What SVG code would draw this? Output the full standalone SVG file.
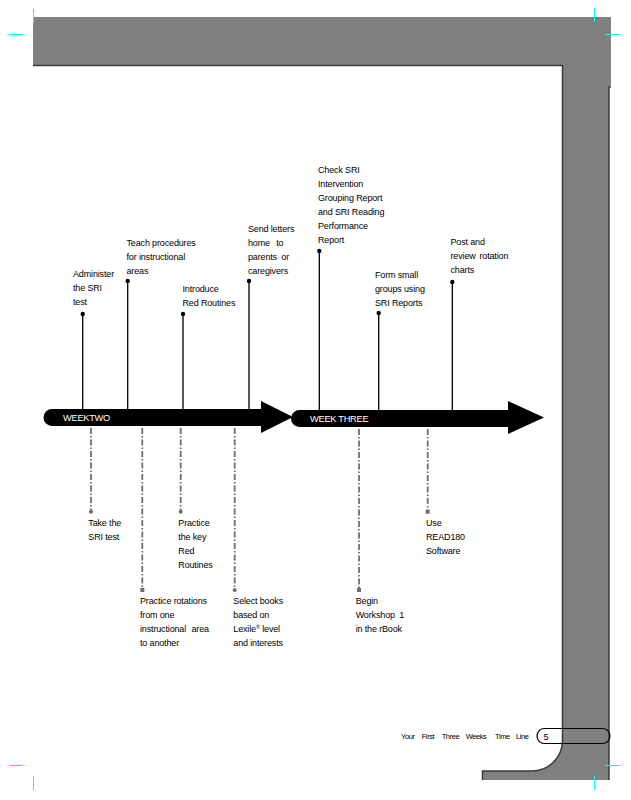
<svg xmlns="http://www.w3.org/2000/svg" width="631" height="800" viewBox="0 0 631 800">
<style>
.t{font-family:"Liberation Sans",Arial,sans-serif;font-size:9px;fill:#000;letter-spacing:-0.15px}
.wk{font-family:"Liberation Sans",Arial,sans-serif;font-size:9.3px;fill:#fff;letter-spacing:-0.3px}
.ft{font-family:"Liberation Sans",Arial,sans-serif;font-size:7.5px;fill:#000;letter-spacing:-0.4px}
.solid{stroke:#000;stroke-width:1.3;fill:none}
.dash{stroke:#6e6e6e;stroke-width:1.8;fill:none;stroke-dasharray:6 2 1.5 2}
.dot{fill:#000}
.gdot{fill:#6e6e6e}
.crop{stroke:#00ffff;stroke-width:1;fill:none}
.edge{stroke:#3a3a3a;stroke-width:1.5;fill:none}
</style>
<rect width="631" height="800" fill="#fff"/>
<g id="frame">
<path d="M33,17 H611 V88 H609 V780 H482 V771 H532 A30,30 0 0 0 562,741 V65 H33 Z" fill="#808080"/>
<path class="edge" d="M33,65.5 H562.5 V741 A30.5,30.5 0 0 1 532,771 H482.5 V780"/>
<path class="edge" d="M609,86 V780"/>
</g>
<g id="crop-marks">
<path class="crop" d="M9,34.5 H23 M33.5,9 V23 M594.5,8 V22 M605,34.5 H620 M9,765.5 H23 M33.5,776 V790 M605,765.5 H620 M594.5,776 V790"/>
</g>
<g id="week-two">
<path d="M52,409 H261 V401 L293,417 L261,433 V426 H52 A8.5,8.5 0 0 1 52,409 Z" fill="#000"/>
<text class="wk" x="63" y="420.5">WEEKTWO</text>
</g>
<g id="week-three">
<path d="M299.5,410 H508 V401 L544,417.5 L508,434 V427 H299.5 A8.5,8.5 0 0 1 299.5,410 Z" fill="#000"/>
<text class="wk" x="310" y="421.5">WEEK THREE</text>
</g>
<g id="connectors">
<path class="solid" d="M82.7,314 V409 M127.7,281 V409 M183,314 V409 M249,281 V409 M319.3,251 V410 M378.7,313 V410 M452.3,282 V410"/>
<path class="dash" d="M91,428 V511 M142.3,428 V589 M180.7,428 V511 M234.7,428 V589 M359,429 V589 M427.7,429 V511"/>
</g>
<g id="administer">
<circle class="dot" cx="82.7" cy="314" r="2.2"/>
<text class="t" x="73" y="277">Administer</text>
<text class="t" x="73" y="291">the SRI</text>
<text class="t" x="73" y="305">test</text>
</g>
<g id="teach">
<circle class="dot" cx="127.7" cy="281" r="2.2"/>
<text class="t" x="126.5" y="246">Teach procedures</text>
<text class="t" x="126.5" y="260">for instructional</text>
<text class="t" x="126.5" y="274">areas</text>
</g>
<g id="introduce">
<circle class="dot" cx="183" cy="314" r="2.2"/>
<text class="t" x="182.5" y="292">Introduce</text>
<text class="t" x="182.5" y="306">Red Routines</text>
</g>
<g id="send">
<circle class="dot" cx="249" cy="281" r="2.2"/>
<text class="t" x="248" y="232">Send letters</text>
<text class="t" x="248" y="246" word-spacing="4">home to</text>
<text class="t" x="248" y="260" word-spacing="2">parents or</text>
<text class="t" x="248" y="274">caregivers</text>
</g>
<g id="check">
<circle class="dot" cx="319.3" cy="251" r="2.2"/>
<text class="t" x="318" y="173">Check SRI</text>
<text class="t" x="318" y="187">Intervention</text>
<text class="t" x="318" y="201">Grouping Report</text>
<text class="t" x="318" y="215">and SRI Reading</text>
<text class="t" x="318" y="229">Performance</text>
<text class="t" x="318" y="243">Report</text>
</g>
<g id="form">
<circle class="dot" cx="378.7" cy="313" r="2.2"/>
<text class="t" x="375" y="278">Form small</text>
<text class="t" x="375" y="292">groups using</text>
<text class="t" x="375" y="306">SRI Reports</text>
</g>
<g id="post">
<circle class="dot" cx="452.3" cy="282" r="2.2"/>
<text class="t" x="450.5" y="245">Post and</text>
<text class="t" x="450.5" y="259" word-spacing="1.5">review rotation</text>
<text class="t" x="450.5" y="273">charts</text>
</g>
<g id="take">
<circle class="gdot" cx="91" cy="511.7" r="2"/>
<text class="t" x="88.3" y="526">Take the</text>
<text class="t" x="88.3" y="540">SRI test</text>
</g>
<g id="practice-key">
<circle class="gdot" cx="180.7" cy="511.7" r="2"/>
<text class="t" x="178.3" y="526">Practice</text>
<text class="t" x="178.3" y="540">the key</text>
<text class="t" x="178.3" y="554">Red</text>
<text class="t" x="178.3" y="568">Routines</text>
</g>
<g id="practice-rotations">
<rect class="gdot" x="140.3" y="588" width="4" height="4"/>
<text class="t" x="140" y="604">Practice rotations</text>
<text class="t" x="140" y="618">from one</text>
<text class="t" x="140" y="632" word-spacing="3">instructional area</text>
<text class="t" x="140" y="646">to another</text>
</g>
<g id="select">
<circle class="gdot" cx="234.7" cy="590" r="2"/>
<text class="t" x="233.3" y="604">Select books</text>
<text class="t" x="233.3" y="618">based on</text>
<text class="t" x="233.3" y="632">Lexile<tspan font-size="5.5" dy="-3">®</tspan><tspan dy="3"> level</tspan></text>
<text class="t" x="233.3" y="646">and interests</text>
</g>
<g id="begin">
<rect class="gdot" x="357" y="588" width="4" height="4"/>
<text class="t" x="355.7" y="604">Begin</text>
<text class="t" x="355.7" y="618" word-spacing="2">Workshop 1</text>
<text class="t" x="355.7" y="632">in the rBook</text>
</g>
<g id="use">
<rect class="gdot" x="425.7" y="509.7" width="4" height="4"/>
<text class="t" x="426" y="526">Use</text>
<text class="t" x="426" y="540">READ180</text>
<text class="t" x="426" y="554">Software</text>
</g>
<g id="footer">
<text class="ft" y="738.5"><tspan x="401">Your</tspan><tspan x="421.7">First</tspan><tspan x="441.7">Three</tspan><tspan x="465.7">Weeks</tspan><tspan x="495">Time</tspan><tspan x="516">Line</tspan></text>
<rect x="537" y="728.5" width="73" height="15" rx="7.5" fill="none" stroke="#000" stroke-width="1.2"/>
<text class="t" x="543.5" y="740">5</text>
</g>
</svg>
